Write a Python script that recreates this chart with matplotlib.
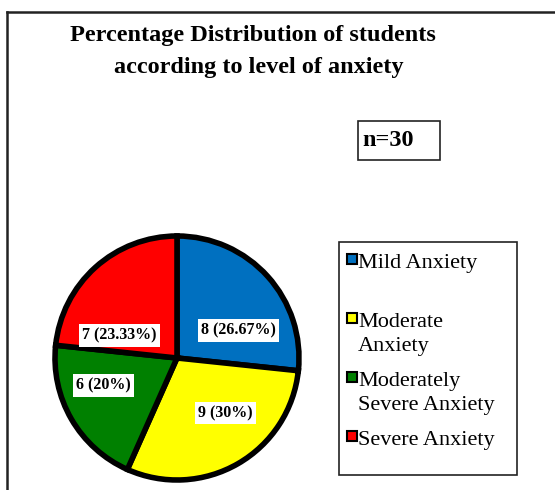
import matplotlib.pyplot as plt
from matplotlib.patches import Rectangle
from matplotlib.lines import Line2D

# data
categories = ['Mild Anxiety', 'Moderate\nAnxiety', 'Moderately\nSevere Anxiety', 'Severe Anxiety']
counts = [8, 9, 6, 7]
percents = [26.67, 30, 20, 23.33]
colors = ['#0070C0', '#FFFF00', '#008000', '#FF0000']
n_total = 30

W, H = 555, 490


def fx(x):
    return x / W


def fy(y):
    return 1 - y / H


fig = plt.figure(figsize=(W / 100, H / 100), dpi=100)
fig.patch.set_facecolor('white')
serif = ['Liberation Serif', 'DejaVu Serif']

# outer frame (only left and top edges visible in the crop)
fig.add_artist(Line2D([fx(7), fx(7)], [fy(12), -0.1], color='#222222', lw=1.8, transform=fig.transFigure))
fig.add_artist(Line2D([fx(7), 1.1], [fy(12), fy(12)], color='#222222', lw=1.8, transform=fig.transFigure))

# title
fig.text(fx(253), fy(36), 'Percentage Distribution of students', ha='center', va='center',
         fontsize=17.5, fontweight='bold', family=serif)
fig.text(fx(259), fy(68), 'according to level of anxiety', ha='center', va='center',
         fontsize=17.5, fontweight='bold', family=serif)

# n box
fig.add_artist(Rectangle((fx(358), fy(160)), fx(82), 39 / H, transform=fig.transFigure,
                         facecolor='white', edgecolor='#222222', lw=1.2))
fig.text(fx(362), fy(141), f'n={n_total}', ha='left', va='center',
         fontsize=17.5, fontweight='bold', family=serif)

# pie
cx, cy, R = 177, 358, 125
ax = fig.add_axes([fx(cx - R), fy(cy + R), 2 * R / W, 2 * R / H])
ax.pie(counts, colors=colors, startangle=90, counterclock=False, radius=122 / R,
       wedgeprops=dict(edgecolor='black', linewidth=4))
ax.set_xlim(-1, 1)
ax.set_ylim(-1, 1)
ax.set_aspect('equal')
ax.axis('off')

label_pos = [(0.49, 0.22), (0.39, -0.44), (-0.59, -0.22), (-0.46, 0.18)]
for (lx, ly), c, p in zip(label_pos, counts, percents):
    ax.text(lx, ly, f'{c} ({p:g}%)', ha='center', va='center', fontsize=11.5,
            fontweight='bold', family=serif,
            bbox=dict(boxstyle='square,pad=0.2', facecolor='white', edgecolor='none'))

# legend drawn by hand to keep the square beside the first line
fig.add_artist(Rectangle((fx(339), fy(475)), fx(178), 233 / H, transform=fig.transFigure,
                         facecolor='white', edgecolor='#222222', lw=1.2))
for i, (lab, col) in enumerate(zip(categories, colors)):
    base = 268 + 59 * i
    fig.add_artist(Rectangle((fx(347), fy(base - 4)), fx(10), 10 / H, transform=fig.transFigure,
                             facecolor=col, edgecolor='black', lw=1.5))
    for k, line in enumerate(lab.split('\n')):
        fig.text(fx(358), fy(base + 24 * k), line, ha='left', va='baseline',
                 fontsize=16, family=serif)

fig.savefig('out.png', dpi=100)
